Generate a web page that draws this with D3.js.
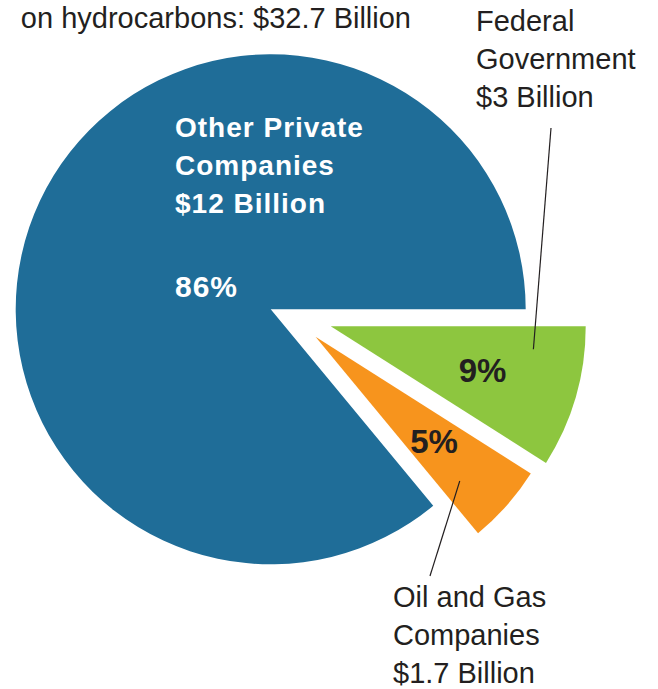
<!DOCTYPE html>
<html>
<head>
<meta charset="utf-8">
<script src="https://cdn.jsdelivr.net/npm/d3@7"></script>
<style>
  html, body { margin: 0; padding: 0; background: #ffffff; }
  svg { display: block; }
  text { font-family: "Liberation Sans", Arial, sans-serif; }
</style>
</head>
<body>
<div id="chart"></div>
<script>
// Funding sources, listed clockwise starting from three o'clock
const categories = ["Federal Government", "Oil and Gas Companies", "Other Private Companies"];
const shares = [9, 5, 86];                       // percent of total
const amounts = ["$3 Billion", "$1.7 Billion", "$12 Billion"];
const shareLabels = ["9%", "5%", "86%"];
const headline = "on hydrocarbons: $32.7 Billion";

const W = 658, H = 689;
const cx = 270.7, cy = 309.3, R = 255;
const GAP = 17;        // white gap between pulled-out wedges
const SLIDE = 60;      // how far the first small wedge slides along its upper edge

const fills = ["#8dc63f", "#f7941d", "#1f6d98"];
const ink = "#231f20";

const svg = d3.select("#chart").append("svg")
  .attr("width", W).attr("height", H);

const rows = categories.map((c, i) => ({ name: c, share: shares[i], amount: amounts[i], pct: shareLabels[i], i }));

const pie = d3.pie().sort(null).value(d => d.share)
  .startAngle(Math.PI / 2).endAngle(Math.PI / 2 + 2 * Math.PI);
const arcs = pie(rows);
const arc = d3.arc().innerRadius(0).outerRadius(R);

// screen-space helpers: d3 angles run clockwise from north
const scr = a => a - Math.PI / 2;
const dir = a => [Math.cos(scr(a)), Math.sin(scr(a))];
const nrm = a => [-Math.sin(scr(a)), Math.cos(scr(a))];
const dot = (u, v) => u[0] * v[0] + u[1] * v[1];

// Offsets: the large wedge stays put; the two small ones are pushed out so
// that every shared edge is separated by GAP pixels.
const big = arcs[2], g = arcs[0], o = arcs[1];
const off = new Map();
off.set(big, [0, 0]);
const n0 = nrm(g.startAngle), d0 = dir(g.startAngle);
off.set(g, [SLIDE * d0[0] + GAP * n0[0], SLIDE * d0[1] + GAP * n0[1]]);
{
  const ns = nrm(o.startAngle), ne = nrm(o.endAngle);
  const b1 = GAP + dot(off.get(g), ns);
  const b2 = -GAP + dot(off.get(big), ne);
  const det = ns[0] * ne[1] - ns[1] * ne[0];
  off.set(o, [(b1 * ne[1] - ns[1] * b2) / det, (ns[0] * b2 - b1 * ne[0]) / det]);
}

const apex = d => { const v = off.get(d); return [cx + v[0], cy + v[1]]; };
const at = (d, k, t) => {
  const p = apex(d), a = d.startAngle + t * (d.endAngle - d.startAngle), u = dir(a);
  return [p[0] + k * R * u[0], p[1] + k * R * u[1]];
};

// wedges
svg.append("g").selectAll("path").data(arcs).join("path")
  .attr("transform", d => `translate(${apex(d)})`)
  .attr("d", arc)
  .attr("fill", d => fills[d.data.i]);

// percentage labels inside the small wedges
svg.append("g").selectAll("text").data([g, o]).join("text")
  .attr("x", d => at(d, 0.62, 0.5)[0])
  .attr("y", d => at(d, 0.62, 0.5)[1] + 12)
  .attr("text-anchor", "middle")
  .attr("font-size", 33).attr("font-weight", "bold")
  .attr("fill", ink)
  .text(d => d.data.pct);

// label block inside the large wedge
const bigText = svg.append("text")
  .attr("fill", "#ffffff").attr("font-weight", "bold")
  .attr("font-size", 28).attr("letter-spacing", 1);
const words = big.data.name.split(" ");
[words.slice(0, 2).join(" "), words.slice(2).join(" "), big.data.amount].forEach((t, k) => {
  bigText.append("tspan").attr("x", 175).attr("y", 137 + k * 38).text(t);
});
svg.append("text")
  .attr("x", 175).attr("y", 297)
  .attr("fill", "#ffffff").attr("font-weight", "bold")
  .attr("font-size", 30).attr("letter-spacing", 1)
  .text(big.data.pct);

// callouts for the small wedges
function callout(lines, x, y0) {
  const t = svg.append("text").attr("font-size", 29).attr("fill", ink);
  lines.forEach((s, k) => t.append("tspan").attr("x", x).attr("y", y0 + k * 38).text(s));
}
callout(["Federal", "Government", g.data.amount], 476, 31);
callout(["Oil and Gas", "Companies", o.data.amount], 393, 607);

const gp = at(g, 0.8, 0.2);
svg.append("line")
  .attr("x1", 551).attr("y1", 128).attr("x2", gp[0]).attr("y2", gp[1])
  .attr("stroke", ink).attr("stroke-width", 1.2);
const op = at(o, 0.8, 0.7);
svg.append("line")
  .attr("x1", op[0]).attr("y1", op[1]).attr("x2", 430).attr("y2", 576)
  .attr("stroke", ink).attr("stroke-width", 1.2);

// running headline along the top edge
svg.append("text")
  .attr("x", 411).attr("y", 28)
  .attr("text-anchor", "end")
  .attr("font-size", 29).attr("fill", ink)
  .text(headline);
</script>
</body>
</html>
